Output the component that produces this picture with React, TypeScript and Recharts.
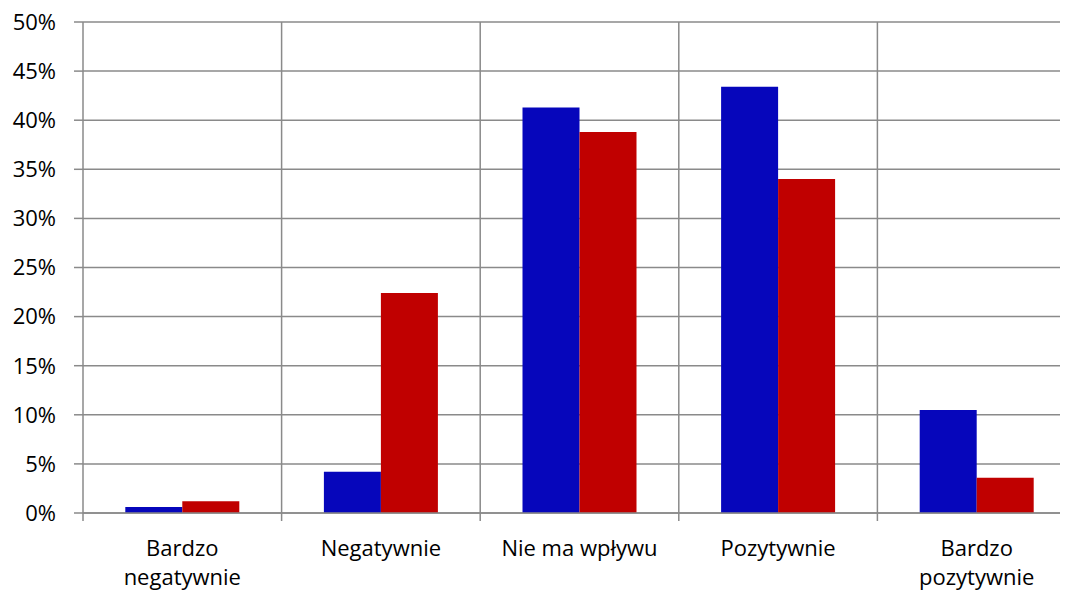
import React from 'react';
import { BarChart, Bar, XAxis, YAxis, CartesianGrid } from 'recharts';

const categories = ['Bardzo negatywnie', 'Negatywnie', 'Nie ma wpływu', 'Pozytywnie', 'Bardzo pozytywnie'];
const blueValues = [0.6, 4.2, 41.3, 43.4, 10.5];
const redValues = [1.2, 22.4, 38.8, 34.0, 3.6];
const yTicks = [0, 5, 10, 15, 20, 25, 30, 35, 40, 45, 50];

const data = categories.map((name, i) => ({ name, blue: blueValues[i], red: redValues[i] }));

const FONT = '"Open Sans", "Noto Sans", sans-serif';
const GRID = '#8a8a8a';
const W = 1068;
const H = 584;
const LEFT = 75;

// category labels, split into lines like the original, plus boundary tick marks
const CategoryTick = (props: any) => {
  const { x, y, payload, index } = props;
  const half = (W - LEFT) / categories.length / 2;
  const words: string[] = payload.value.startsWith('Bardzo') ? payload.value.split(' ') : [payload.value];
  return (
    <g>
      <line x1={x - half} x2={x - half} y1={y} y2={y + 8} stroke={GRID} strokeWidth={1.5} />
      {index === categories.length - 1 && (
        <line x1={x + half} x2={x + half} y1={y} y2={y + 8} stroke={GRID} strokeWidth={1.5} />
      )}
      <text x={x} y={y + 43} textAnchor="middle" fontSize={22} fontFamily={FONT} fill="#000">
        {words.map((w, i) => (
          <tspan key={i} x={x} dy={i === 0 ? 0 : 29}>
            {w}
          </tspan>
        ))}
      </text>
    </g>
  );
};

export default function App() {
  return (
    <div style={{ width: 1060, height: 584, overflow: 'hidden', background: '#fff' }}>
      <BarChart
        width={W}
        height={H}
        data={data}
        margin={{ top: 14, right: 0, left: 0, bottom: 0 }}
        barCategoryGap="21.3%"
        barGap={0}
      >
        <CartesianGrid
          stroke={GRID}
          strokeWidth={1.5}
          verticalCoordinatesGenerator={({ offset }: any) =>
            categories.map((_, i) => offset.left + (offset.width / categories.length) * (i + 1))
          }
        />
        <XAxis
          dataKey="name"
          height={79}
          interval={0}
          axisLine={{ stroke: GRID, strokeWidth: 1.5 }}
          tickLine={false}
          tickSize={0}
          tickMargin={0}
          tick={<CategoryTick />}
        />
        <YAxis
          width={LEFT}
          domain={[0, 50]}
          ticks={yTicks}
          interval={0}
          tickFormatter={(v: number) => `${v}%`}
          axisLine={{ stroke: GRID, strokeWidth: 1.5 }}
          tickLine={{ stroke: GRID, strokeWidth: 1.5 }}
          tickSize={9}
          tickMargin={18}
          tick={{ fontSize: 22, fontFamily: FONT, fill: '#000' }}
        />
        <Bar dataKey="blue" fill="#0606BB" isAnimationActive={false} />
        <Bar dataKey="red" fill="#C00000" isAnimationActive={false} />
      </BarChart>
    </div>
  );
}
